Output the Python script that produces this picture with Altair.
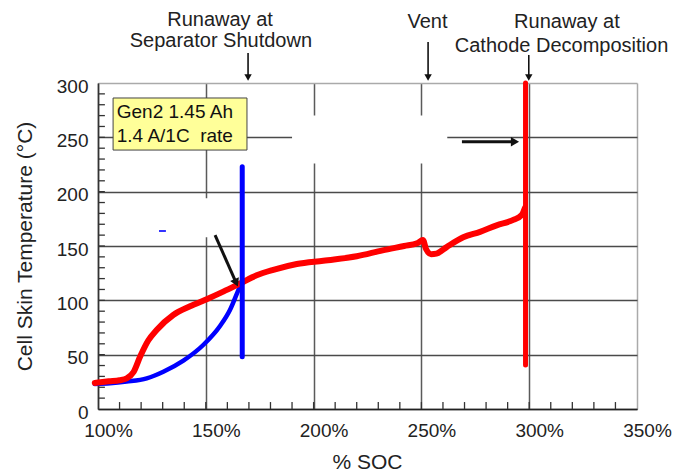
import altair as alt
import pandas as pd

FONT = "Liberation Sans"

# Cell skin temperature vs state of charge during overcharge (Gen2 1.45 Ah, 1C)
red_soc = [98.5, 105, 110, 113.3, 116.5, 119.5, 123.3, 127.2, 134.9, 142.7, 150.4,
           158.1, 165.9, 173.6, 181.3, 192.2, 204.5, 220, 232, 242, 248, 250.7,
           252.2, 254.5, 257, 261.7, 269.4, 277.2, 284.9, 292.6, 296.5, 298]
red_temp = [24, 25.5, 26.5, 28.2, 34, 48, 63, 72.7, 86.5, 94.5, 101,
            108, 115.5, 123, 128, 133.4, 136.5, 140.5, 146, 150, 152.5, 155.5,
            147, 142.5, 143, 149, 158, 163, 169, 174, 178.5, 185]

blue_soc = [98.5, 105.6, 113.3, 122.6, 130.3, 139.6, 148.8, 156.6, 161.2, 165.1, 166.9]
blue_temp = [23, 23.6, 25.2, 28.2, 34.3, 44.5, 58.9, 76.4, 91.1, 109.5, 118]

# Runaway spikes (vertical traces)
spike_soc = [166.9, 298.3]
spike_low = [48, 40.5]
spike_high = [223, 300]
spike_color = ["#0000ff", "#ff0000"]

# Axis values
x_major = [100, 150, 200, 250, 300, 350]
y_major = [0, 50, 100, 150, 200, 250, 300]
x_minor = list(range(110, 350, 10))
y_minor = list(range(10, 300, 10))

# Event annotations above the plot
event_soc = [169.6, 253.1, 299.8]
event_tail = [327.6, 337.7, 325.8]
event_head = [305, 305, 305]

label_text = ["Runaway at", "Separator Shutdown", "Vent", "Runaway at", "Cathode Decomposition"]
label_soc = [156.6, 157.0, 252.8, 317.5, 315.0]
label_temp = [352.4, 333.0, 350.3, 350.3, 328.8]

# Callout box
box_soc = [107, 169.1]
box_temp = [238.3, 286.2]
box_lines = ["Gen2 1.45 Ah", "1.4 A/1C\u00a0 rate"]
box_line_temp = [267.5, 246.0]
box_text_soc = 108.7

# Pointer arrows inside the plot
ptr_soc = [154.3, 268.8]
ptr_soc2 = [164.1, 293.4]
ptr_temp = [160.1, 246.0]
ptr_temp2 = [116.1, 246.0]
ptr_shape = ["triangle-down", "triangle-right"]
ptr_angle = [336, 0]

# Blanked regions of the grid
blank_soc = [190, 110]
blank_soc2 = [262, 154.3]
blank_temp = [226, 158]
blank_temp2 = [270, 194]

x_scale = alt.Scale(domain=[100, 350], nice=False, zero=False)
y_scale = alt.Scale(domain=[0, 300], nice=False, zero=False)

x_axis = alt.Axis(
    values=x_major, labelExpr="datum.value + '%'", labelFont=FONT, labelFontSize=19,
    labelColor="#222", labelPadding=12, labelOffset=10, labelFlush=False,
    ticks=False, tickSize=0,
    domainColor="#222", domainWidth=1.5, grid=True, gridWidth=1.5,
    gridColor={"condition": {"test": "datum.value >= 350", "value": "#aaaaaa"}, "value": "#5a5a5a"},
    title="% SOC", titleFont=FONT, titleFontSize=21, titleFontWeight="normal",
    titleColor="#222", titleX=269, titleY=53, titleBaseline="middle", titleAlign="center",
)
y_axis = alt.Axis(
    values=y_major, labelFont=FONT, labelFontSize=19, labelColor="#222",
    labelPadding=10, labelOffset=3, labelFlush=False, ticks=False, tickSize=0,
    domainColor="#333", domainWidth=1.5, grid=True, gridWidth=1.5,
    gridColor={"condition": {"test": "datum.value >= 300", "value": "#aaaaaa"}, "value": "#4a4a4a"},
    title="Cell Skin Temperature (°C)", titleFont=FONT, titleFontSize=21,
    titleFontWeight="normal", titleColor="#222", titleX=-73, titleY=163,
    titleAngle=270, titleBaseline="middle", titleAlign="center",
)


def X(field):
    return alt.X(field, type="quantitative", scale=x_scale, axis=x_axis)


def Y(field):
    return alt.Y(field, type="quantitative", scale=y_scale, axis=y_axis)


red_df = pd.DataFrame({"soc": red_soc, "temp": red_temp})
blue_df = pd.DataFrame({"soc": blue_soc, "temp": blue_temp})
spike_df = pd.DataFrame({"soc": spike_soc, "lo": spike_low, "hi": spike_high, "c": spike_color})
xtick_df = pd.DataFrame({"soc": x_minor, "t0": 0.0, "t1": 6.4})
ytick_df = pd.DataFrame({"temp": y_minor, "s0": 100.0, "s1": 103.2})
event_df = pd.DataFrame({"soc": event_soc, "tail": event_tail, "head": event_head})
label_df = pd.DataFrame({"soc": label_soc, "temp": label_temp, "text": label_text})
box_df = pd.DataFrame({"s0": [box_soc[0]], "s1": [box_soc[1]], "t0": [box_temp[0]], "t1": [box_temp[1]]})
box_text_df = pd.DataFrame({"soc": box_text_soc, "temp": box_line_temp, "text": box_lines})
ptr_df = pd.DataFrame({"s0": ptr_soc, "s1": ptr_soc2, "t0": ptr_temp, "t1": ptr_temp2,
                       "shape": ptr_shape, "angle": ptr_angle})
blank_df = pd.DataFrame({"s0": blank_soc, "s1": blank_soc2, "t0": blank_temp, "t1": blank_temp2})
dash_df = pd.DataFrame({"s0": [128.3], "s1": [131.5], "t": [163.8]})

blanks = alt.Chart(blank_df).mark_rect(fill="white").encode(
    x=X("s0"), x2="s1", y=Y("t0"), y2="t1")

dash = alt.Chart(dash_df).mark_rule(color="#3333ff", strokeWidth=2).encode(
    x=X("s0"), x2="s1", y=Y("t"))

xticks = alt.Chart(xtick_df).mark_rule(color="#333", strokeWidth=1.3).encode(
    x=X("soc"), y=Y("t0"), y2="t1")
yticks = alt.Chart(ytick_df).mark_rule(color="#333", strokeWidth=1.3).encode(
    x=X("s0"), x2="s1", y=Y("temp"))

box = alt.Chart(box_df).mark_rect(fill="#ffff99", stroke="#444", strokeWidth=1).encode(
    x=X("s0"), x2="s1", y=Y("t0"), y2="t1")
box_text = alt.Chart(box_text_df).mark_text(
    font=FONT, fontSize=19, align="left", baseline="alphabetic", color="#111"
).encode(x=X("soc"), y=Y("temp"), text="text:N")

blue_line = alt.Chart(blue_df).mark_line(
    color="#0000ff", strokeWidth=4.5, interpolate="monotone", strokeCap="round"
).encode(x=X("soc"), y=Y("temp"), order="soc:Q")
red_line = alt.Chart(red_df).mark_line(
    color="#ff0000", strokeWidth=6, interpolate="monotone", strokeCap="round", strokeJoin="round"
).encode(x=X("soc"), y=Y("temp"), order="soc:Q")

spikes = alt.Chart(spike_df).mark_rule(strokeWidth=5, strokeCap="round").encode(
    x=X("soc"), y=Y("lo"), y2="hi", color=alt.Color("c:N", scale=None))

event_shafts = alt.Chart(event_df).mark_rule(color="#111", strokeWidth=1.6).encode(
    x=X("soc"), y=Y("tail"), y2="head")
event_heads = alt.Chart(event_df).mark_point(
    shape="triangle-down", filled=True, color="#111", size=55, opacity=1
).encode(x=X("soc"), y=Y("head"))

ptr_shafts = alt.Chart(ptr_df).mark_rule(color="#111", strokeWidth=3).encode(
    x=X("s0"), x2="s1", y=Y("t0"), y2="t1")
ptr_heads = alt.Chart(ptr_df).mark_point(filled=True, color="#111", size=90, opacity=1).encode(
    x=X("s1"), y=Y("t1"), shape=alt.Shape("shape:N", scale=None),
    angle=alt.Angle("angle:Q", scale=None))

labels = alt.Chart(label_df).mark_text(
    font=FONT, fontSize=20, align="center", baseline="alphabetic", color="#222"
).encode(x=X("soc"), y=Y("temp"), text="text:N")

chart = alt.layer(
    blanks, dash, xticks, yticks, box, box_text, blue_line, red_line, spikes,
    event_shafts, event_heads, ptr_shafts, ptr_heads, labels
).properties(
    width=539, height=326,
    autosize=alt.AutoSizeParams(type="none"),
    padding={"left": 98, "top": 83, "right": 38, "bottom": 66},
    background="white",
).configure_view(stroke=None)

chart.save("out.html", embed_options={"renderer": "svg", "actions": False})
